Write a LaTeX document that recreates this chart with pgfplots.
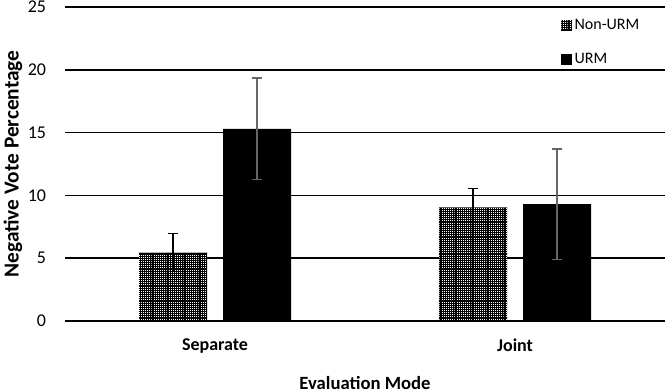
\documentclass[border=0pt]{standalone}
\usepackage{pgfplots}
\pgfplotsset{compat=1.18}
\usepackage{fontspec}
\setmainfont{Carlito}
\usetikzlibrary{patterns,calc}
\pgfdeclarepatternformonly{wdots}{\pgfpoint{-0.1pt}{-0.1pt}}{\pgfpoint{1.6pt}{1.6pt}}{\pgfpoint{1.6pt}{1.6pt}}{\pgfpathrectangle{\pgfpointorigin}{\pgfpoint{0.65pt}{0.65pt}}\pgfusepath{fill}}
\tikzset{checker/.style={fill=black,postaction={pattern=wdots,pattern color=white}}}
\begin{document}
\fontsize{12}{14}\selectfont
\begin{tikzpicture}
\begin{axis}[
  name=ax,
  scale only axis,
  width=450pt, height=235.5pt,
  ymin=0, ymax=25, ytick={0,5,10,15,20,25},
  xmin=-0.5, xmax=1.5,
  xtick={0,1}, xticklabels={\textbf{Separate},\textbf{Joint}},
  ymajorgrids, major grid style={black, line width=1.1pt},
  axis line style={draw=none},
  major tick length=0pt,
  ytick style={draw=none}, xtick style={draw=none},
  yticklabel style={xshift=-10pt, font=\fontsize{13.5}{15}\selectfont},
  xticklabel style={yshift=-9pt, font=\fontsize{13.5}{15}\selectfont},
  /pgf/number format/assume math mode=true,
  ylabel={\textbf{Negative Vote Percentage}},
  ylabel style={yshift=-4pt, font=\fontsize{16}{18}\selectfont},
  xlabel={\textbf{Evaluation Mode}},
  xlabel style={yshift=-9pt, font=\fontsize{14}{16}\selectfont},
  ybar, bar width=51pt,
  clip=false,
  legend style={draw=none, fill=none, at={(rel axis cs:0.82,0.98)}, anchor=north west,
     row sep=12pt, font=\fontsize{12}{14}\selectfont},
  legend cell align=left,
  legend image code/.code={\draw[#1,draw=none] (0pt,-4pt) rectangle (8pt,4pt);},
]
\addplot[checker, draw=none, bar shift=-31.5pt,
  error bars/.cd, y dir=both, y explicit,
  error bar style={black, line width=1pt},
  error mark options={rotate=90, mark size=4pt, line width=1pt, black}]
  coordinates {(0,5.45) +- (0,1.5) (1,9.05) +- (0,1.5)};
\addlegendentry{Non-URM}
\addplot[fill=black, draw=none, bar shift=31.5pt,
  error bars/.cd, y dir=both, y explicit,
  error bar style={black!60, line width=1pt},
  error mark options={rotate=90, mark size=4pt, line width=1pt, black!60}]
  coordinates {(0,15.3) +- (0,4.05) (1,9.3) +- (0,4.4)};
\addlegendentry{URM}
\end{axis}
\pgfresetboundingbox
\path[use as bounding box] ($(ax.south west)+(-48.75pt,-53.25pt)$) rectangle ($(ax.north east)+(0,5.25pt)$);
\end{tikzpicture}
\end{document}
